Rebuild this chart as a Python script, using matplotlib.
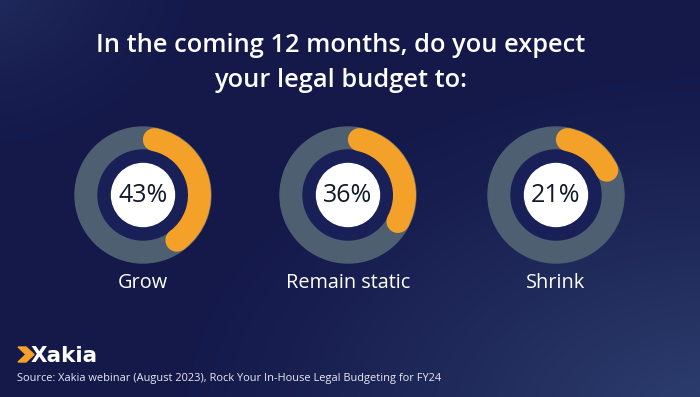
import numpy as np
import matplotlib as mpl
mpl.use('Agg')
import matplotlib.pyplot as plt
from matplotlib.patches import Wedge, Circle, Polygon

plt.rcParams['font.family'] = ['Open Sans', 'DejaVu Sans']

# data
labels = ['Grow', 'Remain static', 'Shrink']
shares = [43, 36, 21]
title_lines = ['In the coming 12 months, do you expect', 'your legal budget to:']
source = 'Source: Xakia webinar (August 2023), Rock Your In-House Legal Budgeting for FY24'

W, H = 700, 397
fig = plt.figure(figsize=(7, 3.97), dpi=100)
ax = fig.add_axes([0, 0, 1, 1])
ax.axis('off')

# background gradient (dark navy, lighter to bottom right and top left)
yy, xx = np.mgrid[0:H, 0:W]
dark = np.array([20, 25, 74]) / 255
br = np.array([46, 64, 112]) / 255
tl = np.array([36, 48, 98]) / 255
d_br = np.hypot((xx - 720) / 560, (yy - 420) / 360)
d_tl = np.hypot((xx + 40) / 260, (yy + 30) / 200)
w_br = np.clip(1 - d_br, 0, 1) ** 1.2
w_tl = np.clip(1 - d_tl, 0, 1) ** 1.5
img = dark[None, None, :] * np.ones((H, W, 1))
img = img + (br - dark)[None, None, :] * w_br[..., None] + (tl - dark)[None, None, :] * w_tl[..., None]
ax.imshow(np.clip(img, 0, 1), extent=[0, W, 0, H], origin='upper', zorder=0, aspect='auto')
ax.set_xlim(0, W)
ax.set_ylim(0, H)

def py(y):
    return H - y

# title
ax.text(341, py(52), title_lines[0], ha='center', va='baseline', color='white',
        fontsize=18.3, fontweight='semibold')
ax.text(341, py(87), title_lines[1], ha='center', va='baseline', color='white',
        fontsize=18.3, fontweight='semibold')

# donuts
centers = [143, 348, 556]
cy = py(195)
r_out, ring_w = 68, 23
r_mid = r_out - ring_w / 2
cap = np.degrees((ring_w / 2) / r_mid)
for cx, lab, s in zip(centers, labels, shares):
    ax.add_patch(Wedge((cx, cy), r_out, 0, 360, width=ring_w, color='#4d5f71', zorder=2))
    ax.add_patch(Circle((cx, cy), r_out - ring_w, color='#182057', zorder=2))
    a0 = 90 - cap
    a1 = 90 - 360 * s / 100 + cap
    ax.add_patch(Wedge((cx, cy), r_out, a1, a0, width=ring_w, color='#f4a12a', zorder=3, lw=0))
    for a in (a0, a1):
        ax.add_patch(Circle((cx + r_mid * np.cos(np.radians(a)), cy + r_mid * np.sin(np.radians(a))),
                            ring_w / 2, color='#f4a12a', zorder=3, lw=0))
    ax.add_patch(Circle((cx, cy), 31.5, color='white', zorder=4))
    ax.text(cx, cy - 1, f'{s}%', ha='center', va='center', color='#0f1a2a',
            fontsize=18, zorder=5)
    ax.text(cx, py(288), lab, ha='center', va='baseline', color='white', fontsize=14.3)

# logo
ax.add_patch(Polygon([(18, py(347)), (26, py(347)), (34, py(354.5)), (26, py(362)),
                      (18, py(362)), (26, py(354.5))], closed=True, color='#f4a12a', zorder=5))
ax.text(31, py(362), 'Xakia', ha='left', va='baseline', color='white',
        fontsize=15.5, fontweight='bold', family=['DejaVu Sans'])

ax.text(17, py(381), source, ha='left', va='baseline', color='#e8eaf2', fontsize=7.9)

plt.savefig('out.png', dpi=100)
